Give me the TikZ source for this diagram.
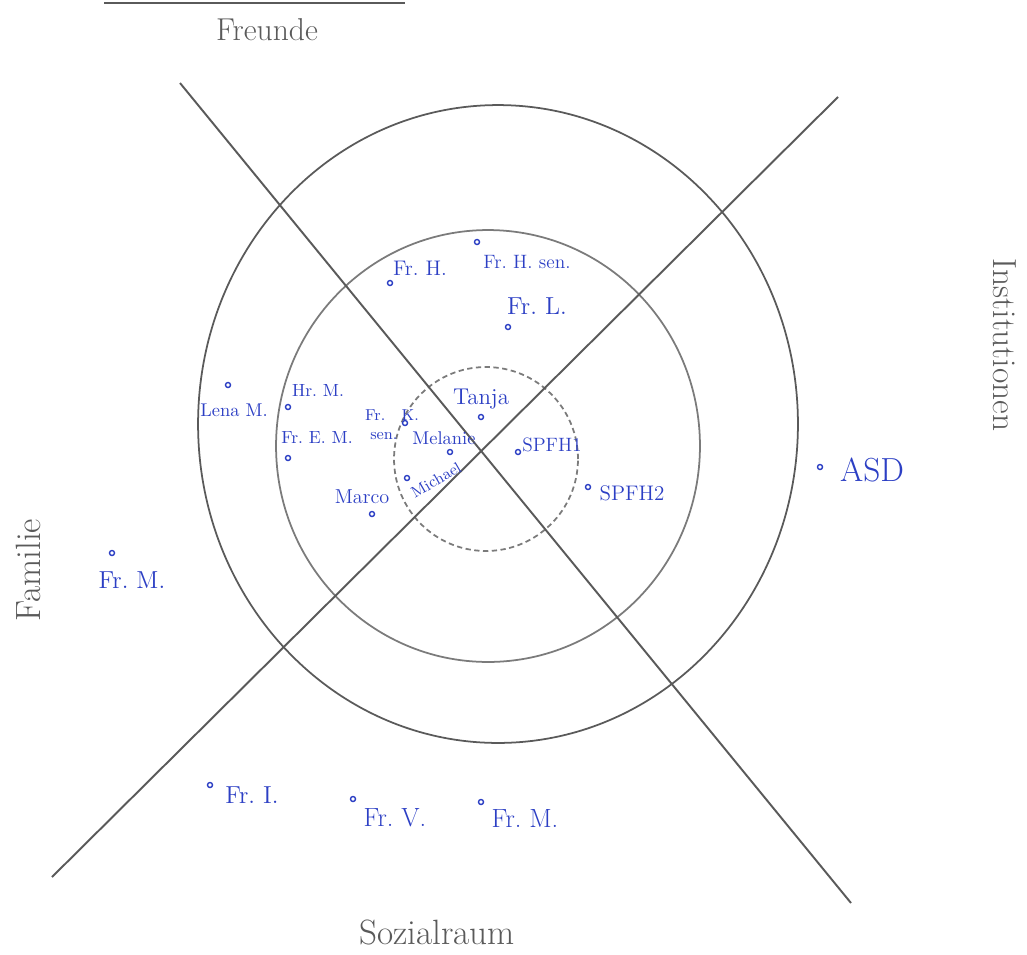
\documentclass[tikz,border=0pt]{standalone}
\usepackage{xcolor}
\usepackage{tikz}
\usetikzlibrary{positioning}
\definecolor{PencilGray}{HTML}{5A5A5A}
\definecolor{InkBlue}{HTML}{2C3FC4}

\begin{document}
\begin{tikzpicture}[x=0.02cm, y=-0.02cm,
  ring/.style={draw=PencilGray, line width=1pt},
  axis_line/.style={draw=PencilGray, line width=1.1pt},
  sector_label/.style={text=PencilGray, inner sep=0pt},
  person/.style={text=InkBlue, inner sep=0pt, align=center},
  pdot/.style={circle, draw=InkBlue, line width=0.8pt, fill=white,
    inner sep=0pt, minimum size=0.1cm}
]
  \useasboundingbox (0,0) rectangle (1027,954);

  % rings and sectors
  \coordinate (outer c) at (498,424);
  \coordinate (middle c) at (488,446);
  \coordinate (inner c) at (486,459);
  \draw[ring] (outer c) ellipse [x radius=6cm, y radius=6.38cm];
  \draw[ring, draw=PencilGray!80] (middle c) ellipse [x radius=4.24cm, y radius=4.32cm];
  \draw[ring, densely dashed, draw=PencilGray!80] (inner c) circle [radius=1.84cm];

  \coordinate (nw) at (180,83);
  \coordinate (se) at (851,903);
  \coordinate (sw) at (52,877);
  \coordinate (ne) at (838,97);
  \draw[axis_line] (nw) -- (se);
  \draw[axis_line] (sw) -- (ne);

  \coordinate (head l) at (104,3);
  \coordinate (head r) at (405,3);
  \draw[axis_line, line width=1.4pt] (head l) -- (head r);

  % sector names
  \node[sector_label, font={\fontsize{18}{20}\selectfont}] (freunde) at (267,30) {Freunde};
  \node[sector_label, font={\fontsize{19}{21}\selectfont}, rotate=-90] (institutionen) at (1005,345) {Institutionen};
  \node[sector_label, font={\fontsize{20}{22}\selectfont}, rotate=90] (familie) at (28,570) {Familie};
  \node[sector_label, font={\fontsize{20}{22}\selectfont}] (sozialraum) at (437,932) {Sozialraum};

  % persons
  \node[pdot] (frh dot) at (390,283) {};
  \node[person, font={\fontsize{12}{14}\selectfont}] (frh) at (420,268) {Fr.~H.};
  \node[pdot] (frhsen dot) at (477,242) {};
  \node[person, font={\fontsize{11}{13}\selectfont}] (frhsen) at (527,262) {Fr.~H.~sen.};
  \node[pdot] (frl dot) at (508,327) {};
  \node[person, font={\fontsize{14}{16}\selectfont}] (frl) at (537,306) {Fr.~L.};

  \node[pdot] (lena dot) at (228,385) {};
  \node[person, font={\fontsize{10.5}{12}\selectfont}] (lena) at (234,410) {Lena M.};
  \node[pdot] (hrm dot) at (288,407) {};
  \node[person, font={\fontsize{10}{12}\selectfont}] (hrm) at (318,390) {Hr.~M.};
  \node[pdot] (frem dot) at (288,458) {};
  \node[person, font={\fontsize{10}{12}\selectfont}] (frem) at (317,437) {Fr.~E.~M.};

  \node[pdot] (frk dot) at (405,423) {};
  \node[person, font={\fontsize{9}{11}\selectfont}] (frk) at (392,425) {Fr.~~~K.\\sen.~~~~};
  \node[pdot] (tanja dot) at (481,417) {};
  \node[person, font={\fontsize{13}{15}\selectfont}] (tanja) at (481,399) {Tanja};
  \node[pdot] (melanie dot) at (450,452) {};
  \node[person, font={\fontsize{10.5}{12}\selectfont}] (melanie) at (444,438) {Melanie};
  \node[pdot] (michael dot) at (407,478) {};
  \node[person, font={\fontsize{9}{11}\selectfont}, rotate=30] (michael) at (436,480) {Michael};
  \node[pdot] (marco dot) at (372,514) {};
  \node[person, font={\fontsize{11.5}{13}\selectfont}] (marco) at (362,497) {Marco};

  \node[pdot] (spfh1 dot) at (518,452) {};
  \node[person, font={\fontsize{11}{13}\selectfont}] (spfh1) at (552,445) {SPFH1};
  \node[pdot] (spfh2 dot) at (588,487) {};
  \node[person, font={\fontsize{12}{14}\selectfont}] (spfh2) at (632,493) {SPFH2};
  \node[pdot] (asd dot) at (820,467) {};
  \node[person, font={\fontsize{19}{21}\selectfont}] (asd) at (872,470) {ASD};

  \node[pdot] (frm fam dot) at (112,553) {};
  \node[person, font={\fontsize{14}{16}\selectfont}] (frm fam) at (132,580) {Fr.~M.};

  \node[pdot] (fri dot) at (210,785) {};
  \node[person, font={\fontsize{14}{16}\selectfont}] (fri) at (252,795) {Fr.~I.};
  \node[pdot] (frv dot) at (353,799) {};
  \node[person, font={\fontsize{15}{17}\selectfont}] (frv) at (395,818) {Fr.~V.};
  \node[pdot] (frm dot) at (481,802) {};
  \node[person, font={\fontsize{15}{17}\selectfont}] (frm) at (525,818) {Fr.~M.};

\end{tikzpicture}
\end{document}
